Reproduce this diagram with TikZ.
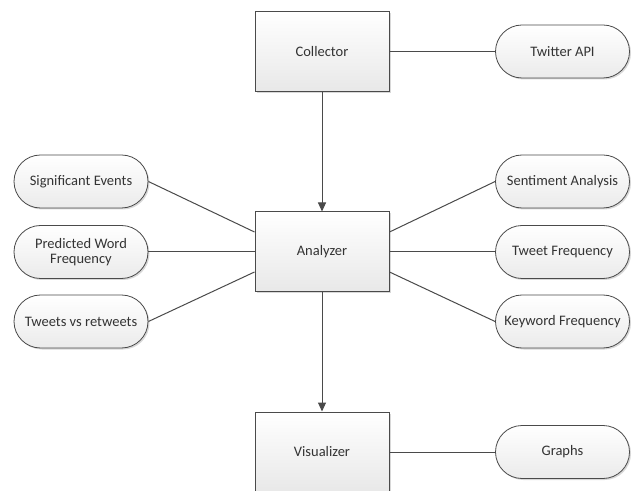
\documentclass[tikz,border=0pt]{standalone}
\usepackage{fontspec}
\setmainfont{Carlito}
\usetikzlibrary{arrows.meta,shadows,shapes.misc}
\definecolor{linec}{HTML}{4A4A4A}
\definecolor{shadc}{HTML}{C8C8C8}
\tikzset{
  procbox/.style={draw=linec, line width=1pt, minimum width=134pt, minimum height=80pt,
    top color=white, bottom color=black!9, drop shadow={shadow xshift=1.5pt, shadow yshift=-1.5pt, fill=shadc, opacity=0.7},
    font=\fontsize{14.5}{16}\selectfont, text=black!80, inner sep=0pt},
  capsule/.style={draw=linec, line width=0.8pt, rounded rectangle, minimum width=134pt, minimum height=53pt,
    top color=white, bottom color=black!8, drop shadow={shadow xshift=1.5pt, shadow yshift=-1.5pt, fill=shadc, opacity=0.7},
    font=\fontsize{14.5}{16}\selectfont, text=black!80, align=center, inner sep=0pt},
  conn/.style={draw=linec, line width=1pt},
  arr/.style={conn, -{Triangle[length=9pt, width=8pt]}}
}
\begin{document}
\begin{tikzpicture}[x=1pt,y=1pt]
\useasboundingbox (0,0) rectangle (639,490);
\fill[white] (0,0) rectangle (639,490);
\node[procbox] (col) at (322,438.5) {Collector};
\node[procbox] (ana) at (322,238) {Analyzer};
\node[procbox] (vis) at (322,38) {Visualizer};
\node[capsule] (tw) at (562.5,438.5) {Twitter API};
\node[capsule] (gr) at (562.5,38) {Graphs};
\node[capsule] (se) at (81,308.5) {Significant Events};
\node[capsule] (pw) at (81,238) {Predicted Word\\[-1pt]Frequency};
\node[capsule] (tr) at (81,168.5) {Tweets vs retweets};
\node[capsule] (sa) at (562.5,308.5) {Sentiment Analysis};
\node[capsule] (tf) at (562.5,238) {Tweet Frequency};
\node[capsule] (kf) at (562.5,168.5) {Keyword Frequency};
\draw[conn] (col.east) -- (tw.west);
\draw[conn] (vis.east) -- (gr.west);
\draw[arr] (col.south) -- (ana.north);
\draw[arr] (ana.south) -- (vis.north);
\draw[conn] (se.east) -- ([yshift=20pt]ana.west);
\draw[conn] (pw.east) -- (ana.west);
\draw[conn] (tr.east) -- ([yshift=-20pt]ana.west);
\draw[conn] (sa.west) -- ([yshift=20pt]ana.east);
\draw[conn] (tf.west) -- (ana.east);
\draw[conn] (kf.west) -- ([yshift=-20pt]ana.east);
\end{tikzpicture}
\end{document}
